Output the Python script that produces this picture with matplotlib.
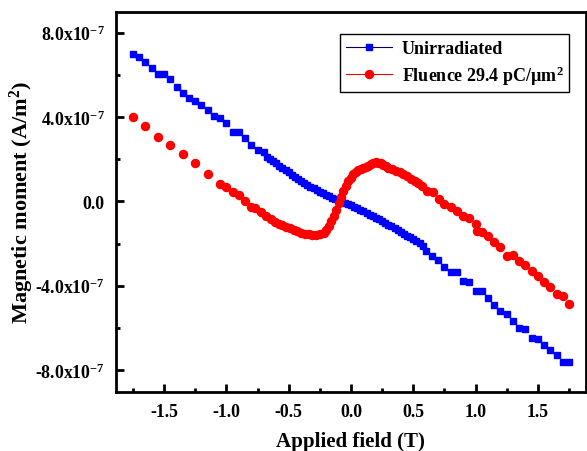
import matplotlib
matplotlib.use("Agg")
import matplotlib.pyplot as plt
from matplotlib.lines import Line2D
from matplotlib.ticker import MultipleLocator, FixedLocator, FixedFormatter
import numpy as np

plt.rcParams["font.family"] = ["Liberation Serif", "DejaVu Serif"]
plt.rcParams["font.weight"] = "bold"
plt.rcParams["mathtext.default"] = "regular"

# Applied field (T) and magnetic moment (units of 1e-7 A/m^2)
field_unirr = [-1.75, -1.70, -1.65, -1.60, -1.55, -1.50, -1.45, -1.40, -1.35, -1.30,
               -1.25, -1.20, -1.15, -1.10, -1.05, -1.00, -0.95, -0.90, -0.85, -0.80,
               -0.75, -0.70, -0.675, -0.65, -0.625, -0.60, -0.575, -0.55, -0.525, -0.50,
               -0.475, -0.45, -0.425, -0.40, -0.375, -0.35, -0.325, -0.30, -0.275, -0.25,
               -0.225, -0.20, -0.175, -0.15, -0.125, -0.10, -0.075, -0.05, -0.025, 0.00,
               0.025, 0.05, 0.075, 0.10, 0.125, 0.15, 0.175, 0.20, 0.225, 0.25,
               0.275, 0.30, 0.325, 0.35, 0.375, 0.40, 0.425, 0.45, 0.475, 0.50,
               0.525, 0.55, 0.575, 0.60, 0.65, 0.70, 0.75, 0.80, 0.85, 0.90,
               0.95, 1.00, 1.05, 1.10, 1.15, 1.20, 1.25, 1.30, 1.35, 1.40,
               1.45, 1.50, 1.55, 1.60, 1.65, 1.70, 1.75]
moment_unirr = [6.99, 6.83, 6.59, 6.32, 6.05, 6.04, 5.83, 5.45, 5.12, 4.89,
                4.77, 4.58, 4.33, 4.03, 3.95, 3.70, 3.30, 3.27, 2.99, 2.67,
                2.43, 2.35, 2.12, 2.02, 1.92, 1.82, 1.70, 1.58, 1.48, 1.38,
                1.27, 1.17, 1.04, 0.95, 0.86, 0.76, 0.68, 0.62, 0.54, 0.46,
                0.38, 0.32, 0.24, 0.17, 0.10, 0.04, -0.02, -0.08, -0.12, -0.18,
                -0.25, -0.32, -0.40, -0.47, -0.55, -0.63, -0.70, -0.77, -0.85, -0.93,
                -1.02, -1.10, -1.19, -1.27, -1.37, -1.46, -1.55, -1.63, -1.70, -1.77,
                -1.86, -1.96, -2.10, -2.36, -2.58, -2.80, -3.13, -3.37, -3.37, -3.77,
                -3.84, -4.24, -4.24, -4.60, -4.92, -5.19, -5.35, -5.66, -6.02, -6.06,
                -6.50, -6.53, -6.82, -7.04, -7.29, -7.64, -7.61]

field_irr = [-1.75, -1.65, -1.55, -1.45, -1.35, -1.25, -1.15, -1.05, -1.00, -0.95,
             -0.90, -0.85, -0.80, -0.77, -0.72, -0.68, -0.64, -0.61, -0.58, -0.55,
             -0.52, -0.49, -0.46, -0.43, -0.40, -0.37, -0.34, -0.31, -0.28, -0.25,
             -0.22, -0.20, -0.18, -0.16, -0.14, -0.12, -0.10, -0.08, -0.06, -0.04,
             -0.02, 0.00, 0.02, 0.04, 0.06, 0.08, 0.10, 0.12, 0.14, 0.16,
             0.18, 0.20, 0.22, 0.24, 0.26, 0.28, 0.30, 0.33, 0.36, 0.39,
             0.42, 0.45, 0.48, 0.51, 0.54, 0.57, 0.61, 0.66, 0.71, 0.75,
             0.80, 0.85, 0.90, 0.95, 1.00, 1.01, 1.05, 1.10, 1.15, 1.20,
             1.25, 1.30, 1.35, 1.40, 1.45, 1.50, 1.55, 1.60, 1.65, 1.70, 1.75]
moment_irr = [4.01, 3.59, 3.06, 2.67, 2.24, 1.82, 1.31, 0.82, 0.68, 0.43,
              0.30, 0.03, -0.28, -0.30, -0.52, -0.68, -0.84, -0.98, -1.05, -1.12,
              -1.20, -1.28, -1.36, -1.42, -1.48, -1.53, -1.56, -1.58, -1.58, -1.55,
              -1.48, -1.36, -1.18, -0.95, -0.68, -0.40, -0.10, 0.22, 0.50, 0.75,
              0.95, 1.12, 1.28, 1.40, 1.50, 1.56, 1.60, 1.64, 1.70, 1.77,
              1.83, 1.85, 1.83, 1.80, 1.74, 1.66, 1.60, 1.55, 1.46, 1.38,
              1.32, 1.22, 1.08, 0.96, 0.86, 0.72, 0.50, 0.43, 0.11, -0.13,
              -0.28, -0.45, -0.68, -0.81, -1.08, -1.39, -1.47, -1.63, -1.95, -2.18,
              -2.58, -2.55, -2.82, -3.02, -3.29, -3.53, -3.84, -4.05, -4.40, -4.51, -4.87]

series_names = ["Unirradiated", "Fluence 29.4 pC/\u00b5m$^{2}$"]
ytick_values = [-8e-7, -4e-7, 0.0, 4e-7, 8e-7]
ytick_labels = ["-8.0x10$^{-7}$", "-4.0x10$^{-7}$", "0.0", "4.0x10$^{-7}$", "8.0x10$^{-7}$"]
xtick_values = [-1.5, -1.0, -0.5, 0.0, 0.5, 1.0, 1.5]
xtick_labels = ["-1.5", "-1.0", "-0.5", "0.0", "0.5", "1.0", "1.5"]

scale = 1e-7

fig = plt.figure(figsize=(5.87, 4.52), dpi=100)
ax = fig.add_axes([0.1976, 0.1312, 0.8002, 0.8407])

ax.plot(field_unirr, np.array(moment_unirr) * scale, linestyle="none",
        marker="s", ms=5.0, color="#0000ff", mec="#0000ff")
ax.plot(field_irr, np.array(moment_irr) * scale, linestyle="none",
        marker="o", ms=5.8, color="#ff0000", mec="#ff0000")

ax.set_xlim(-1.886, 1.884)
ax.set_ylim(-9.03e-7, 9.0e-7)

ax.xaxis.set_major_locator(FixedLocator(xtick_values))
ax.xaxis.set_major_formatter(FixedFormatter(xtick_labels))
ax.xaxis.set_minor_locator(MultipleLocator(0.25))
ax.yaxis.set_major_locator(FixedLocator(ytick_values))
ax.yaxis.set_major_formatter(FixedFormatter(ytick_labels))
ax.yaxis.set_minor_locator(MultipleLocator(2e-7))

ax.tick_params(which="both", direction="in", top=False, right=False, width=2)
ax.tick_params(which="major", length=6, labelsize=12.8, pad=8)
ax.tick_params(which="minor", length=3)
for lab in ax.get_xticklabels() + ax.get_yticklabels():
    lab.set_fontweight("bold")
for sp in ax.spines.values():
    sp.set_linewidth(2)

ax.set_xlabel("Applied field (T)", fontsize=15, fontweight="bold")
ax.xaxis.set_label_coords(0.5, -0.103)
ax.set_ylabel("Magnetic moment (A/m$^{2}$)", fontsize=16, fontweight="bold", labelpad=-1)

handles = [
    Line2D([], [], color="#000060", lw=0.8, marker="s", ms=5, mfc="#0000ff", mec="#0000ff"),
    Line2D([], [], color="#ff0000", lw=0.8, marker="o", ms=5.8, mfc="#ff0000", mec="#ff0000"),
]
leg = ax.legend(handles, series_names, loc="upper right", bbox_to_anchor=(0.983, 0.964),
                fancybox=False, edgecolor="black", framealpha=1,
                prop={"size": 13, "weight": "bold"}, handlelength=2.6,
                borderpad=0.3, labelspacing=0.35, handletextpad=0.5)
leg.get_frame().set_linewidth(1.0)

fig.savefig("out.png", dpi=100)
